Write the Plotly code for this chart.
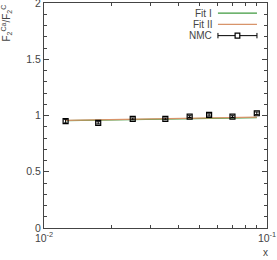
import plotly.graph_objects as go

# NMC data
nmc_x = [0.0125, 0.0175, 0.025, 0.035, 0.045, 0.055, 0.07, 0.09]
nmc_y = [0.950, 0.935, 0.970, 0.970, 0.990, 1.005, 0.990, 1.020]
nmc_err = [0.016, 0.010, 0.008, 0.008, 0.008, 0.010, 0.008, 0.012]

# Fits
fit_x = [0.0125, 0.02, 0.03, 0.05, 0.07, 0.09]
fit1_y = [0.955, 0.961, 0.966, 0.973, 0.978, 0.982]
fit2_y = [0.957, 0.964, 0.969, 0.976, 0.981, 0.986]

x_tickvals = [0.01, 0.1]
x_ticktext = ["10<sup>-2</sup>", "10<sup>-1</sup>"]
x_minor = [0.02, 0.03, 0.04, 0.05, 0.06, 0.07, 0.08, 0.09]
y_tickvals = [0, 0.5, 1, 1.5, 2]
y_ticktext = ["0", "0.5", "1", "1.5", "2"]

c_fit1 = "#3f9a3f"
c_fit2 = "#d8946a"
axc = "#444444"
font = "Liberation Sans, Arial, sans-serif"

fig = go.Figure()
fig.add_trace(go.Scatter(x=fit_x, y=fit1_y, mode="lines",
                         line=dict(color=c_fit1, width=1.2), showlegend=False))
fig.add_trace(go.Scatter(x=fit_x, y=fit2_y, mode="lines",
                         line=dict(color=c_fit2, width=1.2), showlegend=False))
fig.add_trace(go.Scatter(x=nmc_x, y=nmc_y, mode="markers",
                         marker=dict(symbol="square-open", size=5, color="black",
                                     line=dict(width=1.2)),
                         error_y=dict(type="data", array=nmc_err, color="black",
                                      thickness=1, width=2),
                         showlegend=False))

fig.update_xaxes(type="log", range=[-2, -1], tickvals=x_tickvals, ticktext=x_ticktext,
                 ticks="inside", ticklen=5, tickcolor=axc, showline=True, linecolor=axc,
                 linewidth=1, mirror="ticks", showgrid=False, zeroline=False,
                 ticklabeloverflow="allow", automargin=False,
                 tickfont=dict(family=font, size=10.5, color=axc),
                 minor=dict(tickvals=x_minor, ticks="inside", ticklen=3, tickcolor=axc))
fig.update_yaxes(range=[0, 2], tickvals=y_tickvals, ticktext=y_ticktext,
                 ticks="inside", ticklen=5, tickcolor=axc, showline=True, linecolor=axc,
                 linewidth=1, mirror="ticks", showgrid=False, zeroline=False,
                 ticklabeloverflow="allow", automargin=False,
                 tickfont=dict(family=font, size=10.5, color=axc),
                 minor=dict(dtick=0.1, ticks="inside", ticklen=3, tickcolor=axc))

ann_font = dict(family=font, size=10, color=axc)
annotations = [
    dict(text="F<sub>2</sub><sup>Ca</sup>/F<sub>2</sub><sup>C</sup>", xref="paper", yref="paper",
         x=-0.17, y=1.0, xanchor="center", yanchor="top", textangle=-90,
         showarrow=False, font=ann_font),
    dict(text="x", xref="paper", yref="paper", x=0.995, y=-0.075, xanchor="center",
         yanchor="top", showarrow=False, font=ann_font),
]
# Legend (text left of sample, as in reference)
leg_names = ["Fit I", "Fit II", "NMC"]
leg_y = [0.955, 0.905, 0.855]
for name, yy in zip(leg_names, leg_y):
    annotations.append(dict(text=name, xref="paper", yref="paper", x=0.763, y=yy,
                            xanchor="right", yanchor="middle", showarrow=False,
                            font=ann_font))
shapes = [
    dict(type="line", xref="paper", yref="paper", x0=0.78, x1=0.955, y0=leg_y[0], y1=leg_y[0],
         line=dict(color=c_fit1, width=1.2)),
    dict(type="line", xref="paper", yref="paper", x0=0.78, x1=0.955, y0=leg_y[1], y1=leg_y[1],
         line=dict(color=c_fit2, width=1.2)),
    dict(type="line", xref="paper", yref="paper", x0=0.78, x1=0.955, y0=leg_y[2], y1=leg_y[2],
         line=dict(color="black", width=1)),
    dict(type="line", xref="paper", yref="paper", x0=0.78, x1=0.78, y0=leg_y[2] - 0.012,
         y1=leg_y[2] + 0.012, line=dict(color="black", width=1)),
    dict(type="line", xref="paper", yref="paper", x0=0.955, x1=0.955, y0=leg_y[2] - 0.012,
         y1=leg_y[2] + 0.012, line=dict(color="black", width=1)),
    dict(type="rect", xref="paper", yref="paper", x0=0.857, x1=0.878, y0=leg_y[2] - 0.011,
         y1=leg_y[2] + 0.011, line=dict(color="black", width=1.2), fillcolor="white"),
]

fig.update_layout(width=277, height=260, margin=dict(l=44, r=10, t=3, b=32),
                  paper_bgcolor="white", plot_bgcolor="white",
                  annotations=annotations, shapes=shapes, showlegend=False)

fig.write_html("out.html", config={"displayModeBar": False},
               post_script="document.body.style.margin='0';document.body.style.overflow='hidden';")
